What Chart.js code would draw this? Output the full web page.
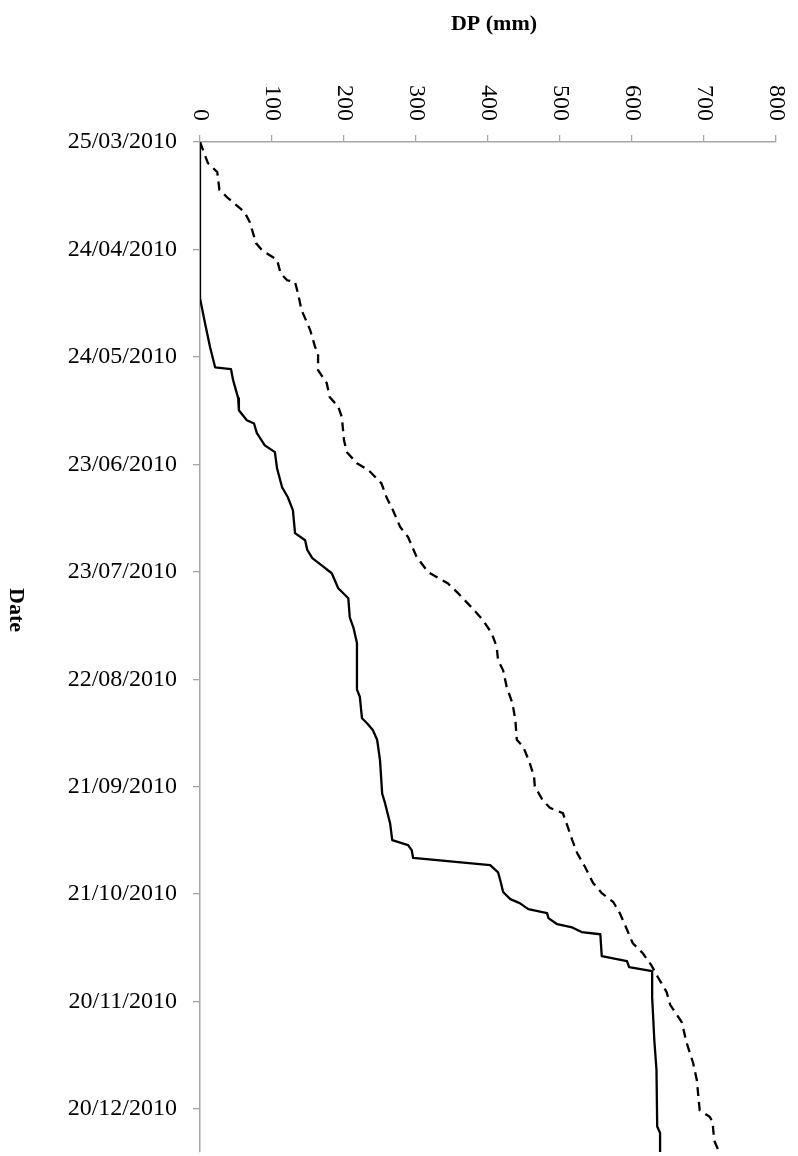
<!DOCTYPE html>
<html>
<head>
<meta charset="utf-8">
<title>DP (mm)</title>
<script src="https://cdn.jsdelivr.net/npm/chart.js@4.4.1/dist/chart.umd.min.js"></script>
<style>
    html, body { margin: 0; padding: 0; background: #ffffff; }
    #wrap { position: relative; width: 798px; height: 1156px; }
</style>
</head>
<body>
<div id="wrap"><canvas id="dpChart"></canvas></div>
<script>
// 날짜 축: 25/03/2010 기준 경과 일수
var tickDates = ['25/03/2010', '24/04/2010', '24/05/2010', '23/06/2010', '23/07/2010',
                 '22/08/2010', '21/09/2010', '21/10/2010', '20/11/2010', '20/12/2010'];
var dpTicks = [0, 100, 200, 300, 400, 500, 600, 700, 800];

// 실선 계열
var solidDays = [0, 43.6, 50.6, 57.3, 62.9, 63.4, 66.5, 71.5, 74.9, 77.7, 78.6, 81.3, 84.7, 86.6, 91.1,
    96.4, 99.2, 102.8, 109.2, 111.2, 113.9, 116.2, 118.2, 120.4, 124.6, 127.4, 132.7, 135.5, 139.9,
    152.9, 154.9, 160.9, 162.3, 164.2, 166.9, 172.6, 181.9, 184.6, 190.2, 194.9, 196.3, 197.7, 199.9,
    201.9, 203.9, 206.9, 209.4, 211.4, 212.5, 214.2, 215.3, 216.7, 218.4, 219.3, 220.6, 221.2, 227.3,
    228.7, 230.4, 231.5, 238.8, 250.8, 259.1, 274.9, 276.7, 282];
var solidDP = [0, 0, 7, 14, 21, 43, 46, 53, 54, 65, 75, 79, 90, 104, 107,
    114, 122, 129, 132, 146, 149, 156, 169, 183, 192, 206, 208, 213, 218,
    218, 222, 225, 232, 240, 246, 250, 253, 257, 264, 267, 289, 294, 296,
    403, 414, 418, 421, 431, 444, 456, 482, 484, 496, 517, 530, 556, 558,
    593, 596, 628, 628, 631, 634, 635, 639, 639];

// 점선 계열
var dashedDays = [0, 5.9, 8.4, 13.4, 15.7, 19.6, 22.3, 28.3, 30.2, 32.9, 36.7, 38.6, 39.1, 42.2, 46.9,
    52.5, 57.3, 58.9, 63.7, 67.3, 71.2, 73.9, 76.8, 83.3, 86.6, 89.7, 91.6, 95.3, 99.2, 102.8,
    107.5, 110.3, 115.9, 120.1, 123.2, 125.9, 129.9, 133.5, 137.1, 140.9, 144.7, 147.5, 152.2, 156.7,
    161.4, 166.9, 168.9, 173.4, 177.3, 179.9, 183.8, 185.9, 187.4, 190.2, 194.9, 198.6, 202.5, 206.9,
    209.7, 212.2, 215.3, 219.9, 223.7, 226.5, 229.9, 233.2, 237.3, 240.9, 245.7, 251.6, 257.2, 261.9,
    270.3, 272.2, 273.6, 278.7, 282];
var dashedDP = [0, 11, 24, 27, 39, 62, 69, 78, 86, 107, 112, 121, 132, 136, 141,
    153, 160, 164, 164, 176, 180, 192, 197, 200, 204, 218, 234, 252, 259, 268,
    278, 289, 301, 317, 344, 358, 377, 393, 405, 412, 414, 421, 426, 434,
    438, 440, 449, 458, 464, 465, 476, 486, 504, 509, 517, 524, 535, 546,
    558, 574, 583, 593, 601, 615, 627, 636, 648, 653, 669, 676, 685, 690,
    694, 708, 712, 714, 721];

var AXIS_GRAY = '#a6a6a6';
var SERIF = '"Liberation Serif", "Times New Roman", serif';

function toPoints(days, values) {
    var pts = [];
    for (var i = 0; i < days.length; i++) {
        pts.push({ x: values[i], y: days[i] });
    }
    return pts;
}

// 상단 눈금 글자와 축 제목 (시계방향 90도 회전)
var rotatedLabelsPlugin = {
    id: 'rotatedLabels',
    afterDraw: function(chart) {
        var ctx = chart.ctx;
        var xScale = chart.scales.x;
        ctx.save();
        ctx.fillStyle = '#000000';
        ctx.font = '24px ' + SERIF;
        ctx.textAlign = 'right';
        ctx.textBaseline = 'middle';
        xScale.ticks.forEach(function(t) {
            var px = xScale.getPixelForValue(t.value);
            ctx.save();
            ctx.translate(px, chart.chartArea.top - 21);
            ctx.rotate(Math.PI / 2);
            ctx.fillText(String(t.value), 0, 0);
            ctx.restore();
        });

        ctx.font = 'bold 22px ' + SERIF;
        ctx.textAlign = 'center';
        ctx.fillText('DP (mm)', (chart.chartArea.left + chart.chartArea.right) / 2 + 6, 24);

        ctx.translate(16, 610);
        ctx.rotate(Math.PI / 2);
        ctx.fillText('Date', 0, 0);
        ctx.restore();
    }
};

var ctx = document.getElementById('dpChart');
var dpChart = new Chart(ctx, {
    type: 'line',
    data: {
        datasets: [
            {
                label: 'solid',
                data: toPoints(solidDays, solidDP),
                borderColor: '#000000',
                borderWidth: 2.3,
                pointRadius: 0,
                tension: 0,
                borderJoinStyle: 'round'
            },
            {
                label: 'dashed',
                data: toPoints(dashedDays, dashedDP),
                borderColor: '#000000',
                borderWidth: 2.3,
                borderDash: [9, 6],
                pointRadius: 0,
                tension: 0
            }
        ]
    },
    options: {
        responsive: true,
        maintainAspectRatio: false,
        animation: false,
        layout: { padding: { top: 0, left: 0, right: 22, bottom: 4 } },
        plugins: { legend: { display: false }, tooltip: { enabled: false } },
        scales: {
            x: {
                type: 'linear',
                position: 'top',
                min: 0,
                max: 800,
                afterBuildTicks: function(scale) {
                    scale.ticks = dpTicks.map(function(v) { return { value: v }; });
                },
                afterFit: function(scale) {
                    scale.height = 142;
                    scale.paddingLeft = 0;
                    scale.paddingRight = 0;
                },
                ticks: { display: false },
                grid: { drawOnChartArea: false, tickLength: 7, tickColor: AXIS_GRAY, lineWidth: 1.3 },
                border: { display: true, color: AXIS_GRAY, width: 1.5 }
            },
            y: {
                type: 'linear',
                reverse: true,
                min: 0,
                max: 282,
                afterBuildTicks: function(scale) {
                    scale.ticks = tickDates.map(function(d, i) { return { value: i * 30 }; });
                },
                afterFit: function(scale) {
                    scale.width = 200;
                    scale.paddingTop = 0;
                    scale.paddingBottom = 0;
                },
                ticks: {
                    color: '#000000',
                    font: { family: SERIF, size: 24 },
                    padding: 16,
                    callback: function(v) { return tickDates[Math.round(v / 30)]; }
                },
                grid: { drawOnChartArea: false, tickLength: 7, tickColor: AXIS_GRAY, lineWidth: 1.3 },
                border: { display: true, color: AXIS_GRAY, width: 1.5 }
            }
        }
    },
    plugins: [rotatedLabelsPlugin]
});
</script>
</body>
</html>
